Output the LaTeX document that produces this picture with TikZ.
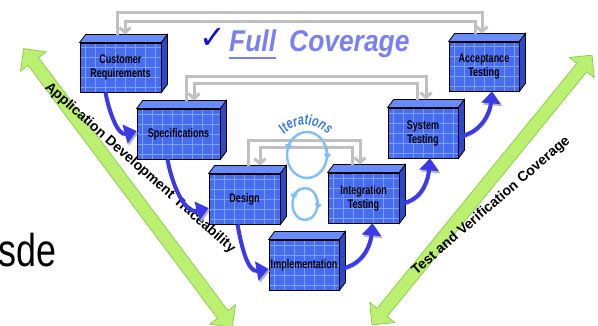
\documentclass[tikz,border=0pt]{standalone}
\usepackage{fontspec}
\setmainfont{Liberation Sans}
\newfontfamily\boxfont[FakeStretch=0.72]{Liberation Sans}
\newfontfamily\titlefont[FakeStretch=0.86]{Liberation Sans}
\newfontfamily\slidefont[FakeStretch=0.78]{Liberation Sans}
\newfontfamily\symfont{DejaVu Sans}
\usepackage{tikz}
\usetikzlibrary{arrows.meta,decorations.text}
\definecolor{boxfront}{RGB}{70,108,240}
\definecolor{boxtop}{RGB}{105,140,252}
\definecolor{boxside}{RGB}{45,72,200}
\definecolor{gridblue}{RGB}{125,160,255}
\definecolor{backgray}{RGB}{192,192,192}
\definecolor{flowblue}{RGB}{58,58,235}
\definecolor{loopblue}{RGB}{128,190,248}
\definecolor{iterblue}{RGB}{55,120,240}
\definecolor{titleblue}{RGB}{122,128,240}
\definecolor{checkblue}{RGB}{20,20,215}
\definecolor{arrowgreen}{RGB}{187,240,112}
\definecolor{arrowedge}{RGB}{140,208,80}

\begin{document}
\begin{tikzpicture}[x=1pt,y=1pt,
    blockbox/.style={draw=black, line width=0.8pt, fill=boxfront, inner sep=0pt,
        align=center, text=black,
        font=\boxfont\fontsize{12.5}{14}\selectfont\bfseries,
        path picture={
            \foreach \g in {5,15,...,95}
                \draw[gridblue, line width=0.7pt] ([xshift=\g*1pt]path picture bounding box.south west) -- ([xshift=\g*1pt]path picture bounding box.north west);
            \foreach \g in {5,15,...,55}
                \draw[gridblue, line width=0.7pt] ([yshift=\g*1pt]path picture bounding box.south west) -- ([yshift=\g*1pt]path picture bounding box.south east);
        }},
    backline/.style={draw=backgray, line width=3pt},
    backarrow/.style={backline, -{Straight Barb[length=5pt,width=11pt]}},
    flowarrow/.style={draw=flowblue, line width=4pt, -{Triangle[length=12pt,width=19pt]},
        preaction={draw=black!30, transform canvas={shift={(1.5pt,-2pt)}}}},
    loopline/.style={draw=loopblue, line width=2.4pt},
    titletext/.style={anchor=base west, inner sep=0pt, text=titleblue, font=\fontsize{30}{30}\selectfont\bfseries\itshape},
    sidetext/.style={font=\bfseries\fontsize{14}{14}\selectfont}]
    \useasboundingbox (0,0) rectangle (598,326);

    % 緑の両矢印
    \foreach \cx/\cy/\ang in {128/138/-53.2, 482/136/50.8} {
        \begin{scope}[shift={(\cx,\cy)}, rotate=\ang]
            \filldraw[fill=arrowgreen, draw=arrowedge, line width=0.8pt]
                (-174,0) -- (-158,16) -- (-158,6.5) -- (158,6.5) -- (158,16) -- (174,0)
                -- (158,-16) -- (158,-6.5) -- (-158,-6.5) -- (-158,-16) -- cycle;
        \end{scope}
    }
    \node[sidetext, rotate=-41.5] (trace) at (140,158) {Application Development Traceability};
    \node[sidetext, rotate=40.8] (verify) at (491,120) {Test and Verification Coverage};

    % 各工程
    \node[blockbox, minimum width=81pt, minimum height=49pt] (cr) at (120.5,258.5) {Customer\\Requirements};
    \node[blockbox, minimum width=83pt, minimum height=50pt] (spec) at (178.5,192) {Specifications};
    \node[blockbox, minimum width=71pt, minimum height=50pt] (design) at (244.5,127) {Design};
    \node[blockbox, minimum width=70pt, minimum height=50pt] (impl) at (304,61) {Implementation};
    \node[blockbox, minimum width=71pt, minimum height=50pt] (integ) at (363.5,128) {Integration\\Testing};
    \node[blockbox, minimum width=70pt, minimum height=50pt] (systest) at (423,193) {System\\Testing};
    \node[blockbox, minimum width=70pt, minimum height=49pt] (accept) at (484,259.5) {Acceptance\\Testing};
    \foreach \b in {cr,spec,design,impl,integ,systest,accept} {
        \filldraw[fill=boxtop, line width=0.8pt] (\b.north west) -- ++(6,8) -- ([shift={(6,8)}]\b.north east) -- (\b.north east) -- cycle;
        \filldraw[fill=boxside, line width=0.8pt] (\b.south east) -- ++(6,8) -- ([shift={(6,8)}]\b.north east) -- (\b.north east) -- cycle;
    }

    % 灰色の対応線
    \draw[backarrow] ([shift={(-3.5pt,8pt)}]cr.north) -- ++(0,22) -| ([shift={(-2pt,8pt)}]accept.north);
    \draw[backarrow] ([shift={(-9pt,8pt)}]accept.north) -- ++(0,12) -| ([shift={(4.5pt,8pt)}]cr.north);
    \draw[backarrow] ([shift={(7.5pt,8pt)}]spec.north) -- ++(0,24) -| ([shift={(3pt,8pt)}]systest.north);
    \draw[backarrow] ([shift={(-6pt,8pt)}]systest.north) -- ++(0,16) -| ([shift={(15.5pt,8pt)}]spec.north);
    \draw[backarrow] ([shift={(3.5pt,8pt)}]design.north) -- ++(0,25) -| ([shift={(-3.5pt,8pt)}]integ.north);
    \draw[backarrow] ([shift={(-11.5pt,8pt)}]integ.north) -- ++(0,17) -| ([shift={(15.5pt,8pt)}]design.north);

    % 青い流れの矢印
    \draw[flowarrow] ([xshift=-15pt]cr.south) to[out=-80, in=195] ([yshift=3pt]spec.west);
    \draw[flowarrow] ([xshift=-11pt]spec.south) to[out=-80, in=195] ([yshift=-9pt]design.west);
    \draw[flowarrow] ([xshift=-7pt]design.south) to[out=-80, in=190] ([yshift=-4pt]impl.west);
    \draw[flowarrow] ([shift={(5pt,-3pt)}]impl.east) to[out=15, in=-95] ([xshift=9pt]integ.south);
    \draw[flowarrow] ([shift={(5pt,-5pt)}]integ.east) to[out=15, in=-95] ([xshift=7pt]systest.south);
    \draw[flowarrow] ([shift={(4pt,-3pt)}]systest.east) to[out=15, in=-95] ([xshift=8pt]accept.south);

    % 反復のループ
    \draw[loopline] (307,171) ellipse [x radius=20, y radius=23];
    \draw[loopline, -{Triangle[length=6pt,width=7pt]}] (307,171) ++(130:20 and 23) arc[start angle=130, end angle=168, x radius=20, y radius=23];
    \draw[loopline, -{Triangle[length=6pt,width=7pt]}] (307,171) ++(30:20 and 23) arc[start angle=30, end angle=-12, x radius=20, y radius=23];
    \draw[loopline] (305,122) ellipse [x radius=12.5, y radius=16];
    \draw[loopline, -{Triangle[length=6pt,width=7pt]}] (305,122) ++(115:12.5 and 16) arc[start angle=115, end angle=165, x radius=12.5, y radius=16];
    \draw[loopline, -{Triangle[length=6pt,width=7pt]}] (305,122) ++(35:12.5 and 16) arc[start angle=35, end angle=-20, x radius=12.5, y radius=16];
    \path[decorate, decoration={text along path, text align=center, text color=iterblue,
        text={|\boxfont\fontsize{15}{15}\selectfont\bfseries\itshape|Iterations}}]
        (306,171) ++(140:30) arc[start angle=140, end angle=40, radius=30];

    % 見出し
    \node[text=checkblue, font=\symfont\fontsize{32}{32}\selectfont] (tick) at (212.5,288) {✓};
    \node[titletext] (full) at (229,274) {\scalebox{0.88}[1]{Full}};
    \node[titletext] (cover) at (289,274) {\scalebox{0.88}[1]{Coverage}};
    \draw[titleblue, line width=2.8pt] ([yshift=-6pt]full.base west) -- ([yshift=-6pt]full.base east);

    % 左端の文字
    \node[anchor=base west, inner sep=0pt, font=\slidefont\fontsize{46}{46}\selectfont] (sde) at (-2,59) {sde};
\end{tikzpicture}
\end{document}
